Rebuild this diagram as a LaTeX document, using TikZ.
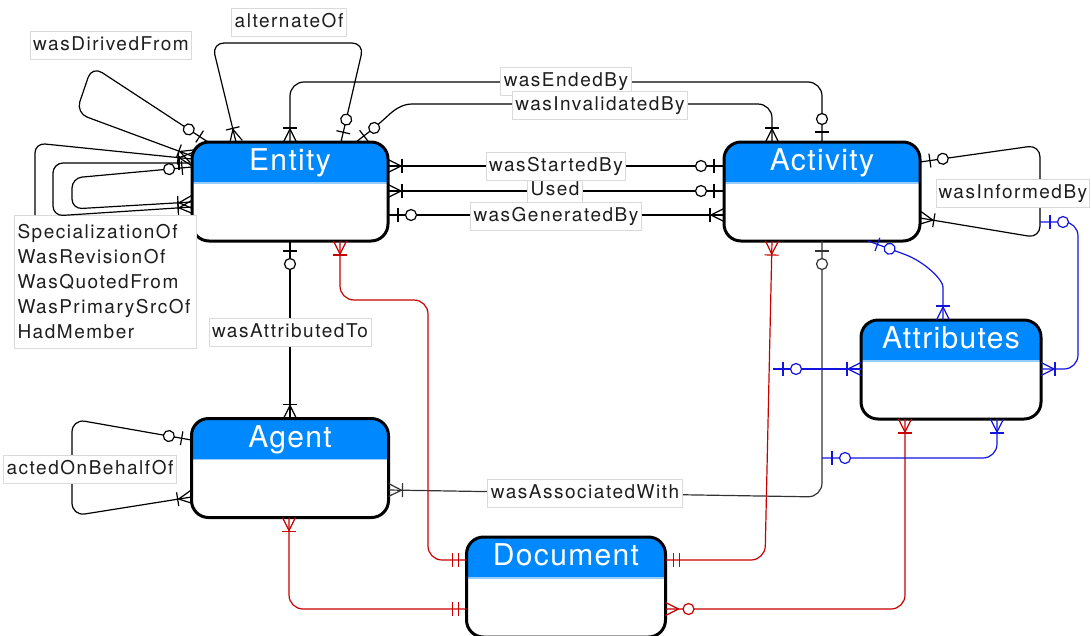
\documentclass[tikz,border=0pt]{standalone}
\usepackage{fontspec}
\usetikzlibrary{decorations.markings}
\newfontfamily\lblfont[LetterSpace=8]{TeX Gyre Heros}
\newfontfamily\ttlfont[LetterSpace=4.5]{TeX Gyre Heros}

\definecolor{hdrblue}{RGB}{0,136,255}
\definecolor{hdrline}{RGB}{150,205,255}
\definecolor{relred}{RGB}{200,0,0}
\definecolor{relblue}{RGB}{20,20,225}
\definecolor{lblgray}{RGB}{218,218,218}
\definecolor{lbltext}{RGB}{30,30,30}

\tikzset{
  % entity boxes with a blue title band
  ebox/.style={draw=black, line width=3pt, fill=white, rounded corners=17pt,
    outer sep=0pt, inner sep=0pt,
    path picture={
      \fill[hdrblue, sharp corners] (path picture bounding box.north west)
        rectangle ([yshift=-41pt]path picture bounding box.north east);
      \draw[hdrline, line width=1.5pt, sharp corners]
        ([yshift=-41pt]path picture bounding box.north west) --
        ([yshift=-41pt]path picture bounding box.north east);
    }},
  ttl/.style={text=white, font=\ttlfont\fontsize{30}{36}\selectfont,
    inner sep=0pt, anchor=base},
  lbl/.style={draw=lblgray, line width=1pt, fill=white, text=lbltext,
    font=\lblfont\fontsize{19}{25}\selectfont, inner xsep=3pt, inner ysep=5pt,
    text height=14pt, text depth=4pt},
  lblmulti/.style={draw=lblgray, line width=1pt, fill=white, text=lbltext,
    font=\lblfont\fontsize{19}{25}\selectfont, inner xsep=3pt, inner ysep=3pt},
  conn/.style={line width=1.2pt, rounded corners=13pt},
  % crow's foot end symbols, drawn with the box at x=0
  pics/one/.style={code={\draw (-13,-7) -- (-13,7);}},
  pics/om/.style={code={\draw (-13,0) -- (0,-6.5) (-13,0) -- (0,6.5);
      \draw (-14,-7) -- (-14,7);}},
  pics/zo/.style={code={\draw (-10,-7) -- (-10,7);
      \draw[fill=white] (-23,0) circle[radius=5.5];}},
  pics/zm/.style={code={\draw (-13,0) -- (0,-6.5) (-13,0) -- (0,6.5);
      \draw[fill=white] (-23,0) circle[radius=5.5];}},
  pics/oo/.style={code={\draw (-8,-7) -- (-8,7) (-14,-7) -- (-14,7);}},
  headmk/.style={postaction={decorate,decoration={markings,
      mark=at position 1 with {\pic[transform shape]{#1};}}}},
  tailmk/.style={postaction={decorate,decoration={markings,
      mark=at position 0 with {\pic[transform shape,rotate=180]{#1};}}}},
}

\begin{document}
\begin{tikzpicture}[x=1pt,y=-1pt]
\useasboundingbox (0,0) rectangle (1091,635);
\fill[white] (0,0) rectangle (1091,635);

% ---------- entities ----------
\node[ebox, minimum width=196pt, minimum height=99pt] (entity) at (290,191.5) {};
\node[ebox, minimum width=196pt, minimum height=99pt] (activity) at (822,191.5) {};
\node[ebox, minimum width=197pt, minimum height=99pt] (agent) at (290,468) {};
\node[ebox, minimum width=199pt, minimum height=100pt] (document) at (566,587) {};
\node[ebox, minimum width=180pt, minimum height=99pt] (attributes) at (951,369.5) {};

\node[ttl] (entity-t) at ([yshift=-28.5pt]entity.north) {Entity};
\node[ttl] (activity-t) at ([yshift=-28.5pt]activity.north) {Activity};
\node[ttl] (agent-t) at ([yshift=-28.5pt]agent.north) {Agent};
\node[ttl] (document-t) at ([yshift=-28.5pt]document.north) {Document};
\node[ttl] (attributes-t) at ([yshift=-28.5pt]attributes.north) {Attributes};

% ---------- labels that loops attach to ----------
\node[lblmulti, anchor=north west, align=left, text width=176pt,
  minimum width=182pt, minimum height=133pt] (l-spec) at (14,215)
  {SpecializationOf\\WasRevisionOf\\WasQuotedFrom\\WasPrimarySrcOf\\HadMember};

% ---------- free ends of attribute links ----------
\coordinate (inf-pt) at (1040,222);
\coordinate (assoc-pt) at (822,458);
\coordinate (attr-in) at (773,369);

% ---------- black relations ----------
% wasDirivedFrom
\draw[conn, rounded corners=12pt, tailmk=zo, headmk=om]
  ([xshift=16pt]entity.north west) -- (92,66) -- (76,113) -- (entity.west |- 0,156);
% specialization group
\draw[conn, rounded corners=10pt, headmk=om]
  (l-spec.north -| 35,0) -- (35,143) -- (entity.west |- 0,159);
\draw[conn, rounded corners=10pt, tailmk=one, headmk=om]
  (entity.west |- 0,163) -- (53,163) -- (53,216) -- (entity.west |- 0,207);
\draw[conn, rounded corners=10pt, tailmk=zo, headmk=om]
  (entity.west |- 0,167) -- (72,178) -- (72,209) -- (entity.west |- 0,202);
% alternateOf
\draw[conn, rounded corners=12pt, tailmk=zo, headmk=om]
  (entity.north -| 341,0) -- (364,43) -- (212,43) -- (entity.north -| 236,0);
% wasEndedBy
\draw[conn, rounded corners=14pt, tailmk=om, headmk=zo]
  (entity.north -| 290,0) -- (290,82) -- (822,82) -- (activity.north -| 822,0);
% wasInvalidatedBy
\draw[conn, rounded corners=14pt, tailmk=zo, headmk=om]
  (entity.north -| 356,0) -- (378,125) .. controls (394,110) and (402,104) .. (426,104)
  -- (772,104) -- (activity.north -| 772,0);
% wasStartedBy, Used, wasGeneratedBy
\draw[conn, tailmk=om, headmk=zo] (entity.east |- 0,166) -- (activity.west |- 0,166);
\draw[conn, tailmk=om, headmk=zo] (entity.east |- 0,191) -- (activity.west |- 0,191);
\draw[conn, tailmk=zo, headmk=om] (entity.east |- 0,215) -- (activity.west |- 0,215);
% wasInformedBy
\draw[conn, rounded corners=12pt, tailmk=zo, headmk=om]
  (activity.east |- 0,162) -- (1040,145) -- (1040,238) -- (activity.east |- 0,218);
% wasAttributedTo
\draw[conn, tailmk=zo, headmk=om] (entity.south -| 290,0) -- (agent.north -| 290,0);
% actedOnBehalfOf
\draw[conn, rounded corners=13pt, tailmk=zo, headmk=om]
  (agent.west |- 0,440) -- (72,419) -- (72,516) -- (agent.west |- 0,497);
% wasAssociatedWith
\draw[conn, black!80, rounded corners=14pt, tailmk=om, headmk=zo]
  (agent.east |- 0,490) -- (822,497) -- (activity.south -| 822,0);

% ---------- red links to the document ----------
\draw[conn, relred, rounded corners=14pt, tailmk=om, headmk=oo]
  (entity.south -| 340,0) -- (340,300) -- (428,300) -- (428,560) -- (document.west |- 0,560);
\draw[conn, relred, rounded corners=14pt, tailmk=om, headmk=oo]
  (activity.south -| 772,0) -- (765,560) -- (document.east |- 0,560);
\draw[conn, relred, rounded corners=14pt, tailmk=om, headmk=zm]
  (attributes.south -| 905,0) -- (905,609) -- (document.east |- 0,609);
\draw[conn, relred, rounded corners=14pt, tailmk=om, headmk=oo]
  (agent.south -| 289,0) -- (289,609) -- (document.west |- 0,609);

% ---------- blue attribute links ----------
\draw[conn, relblue, tailmk=zo, headmk=om]
  (activity.south -| 868,0) -- (893,250) .. controls (925,262) and (943,280) .. (943,300)
  -- (attributes.north -| 943,0);
\draw[conn, relblue, tailmk=zo, headmk=om] (attr-in) -- (attributes.west |- 0,369);
\draw[conn, relblue, rounded corners=14pt, tailmk=zo, headmk=om]
  (inf-pt) -- (1078,222) -- (1078,369) -- (attributes.east |- 0,369);
\draw[conn, relblue, rounded corners=14pt, tailmk=zo, headmk=om]
  (assoc-pt) -- (997,458) -- (attributes.south -| 997,0);

% ---------- relation labels ----------
\node[lbl] (l-derived) at (111,45) {wasDirivedFrom};
\node[lbl] (l-alt) at (289,22) {alternateOf};
\node[lbl] (l-ended) at (566,81) {wasEndedBy};
\node[lbl] (l-inval) at (600,105) {wasInvalidatedBy};
\node[lbl] (l-used) at (555,190) {Used};
\node[lbl] (l-started) at (556,166) {wasStartedBy};
\node[lbl] (l-gen) at (556,216) {wasGeneratedBy};
\node[lbl, anchor=west, inner xsep=2pt] (l-inf) at (936,193) {wasInformedBy};
\node[lbl] (l-attr) at (290,332) {wasAttributedTo};
\node[lbl] (l-acted) at (90,469) {actedOnBehalfOf};
\node[lbl] (l-assoc) at (585,493) {wasAssociatedWith};
\end{tikzpicture}
\end{document}
